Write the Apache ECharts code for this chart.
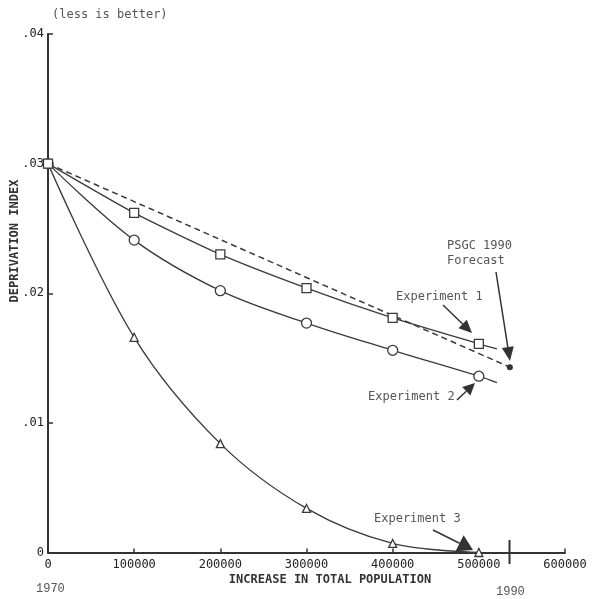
<!DOCTYPE html>
<html>
<head>
<meta charset="utf-8">
<script src="https://cdn.jsdelivr.net/npm/echarts@6/dist/echarts.min.js"></script>
<style>
  html, body { margin: 0; padding: 0; background: #fff; }
  #chart { width: 599px; height: 599px; }
</style>
</head>
<body>
<div id="chart"></div>
<script>
// population increase (x) and deprivation index values
const popSteps = [0, 100000, 200000, 300000, 400000, 500000];
const exp1 = [0.0300, 0.0262, 0.0230, 0.0204, 0.0181, 0.0161];
const exp2 = [0.0300, 0.0241, 0.0202, 0.0177, 0.0156, 0.0136];
const exp3 = [0.0300, 0.0166, 0.0084, 0.0034, 0.0007, 0.0000];
// the experiment 1/2 lines run a little past the last marker
const tailX = 521000;
const exp1Tail = 0.0157;
const exp2Tail = 0.0131;
// PSGC 1990 forecast: straight dashed line from 1970 value
const forecastX = [0, 536000];
const forecastY = [0.0300, 0.0143];
const xTicks = [0, 100000, 200000, 300000, 400000, 500000, 600000];
const yTicks = [0, 0.01, 0.02, 0.03, 0.04];

const ink = '#3a3a3a';
const mono = '"DejaVu Sans Mono", monospace';

function pairs(xs, ys) {
  return xs.map((x, i) => [x, ys[i]]);
}

function withTail(xs, ys, tx, ty) {
  const d = pairs(xs, ys);
  d.push({ value: [tx, ty], symbol: 'none' });
  return d;
}

// arrow drawn as a line with a filled triangular head
function arrow(x1, y1, x2, y2, len, half) {
  const a = Math.atan2(y2 - y1, x2 - x1);
  const bx = x2 - len * Math.cos(a), by = y2 - len * Math.sin(a);
  const px = -Math.sin(a) * half, py = Math.cos(a) * half;
  return [
    { type: 'line', shape: { x1: x1, y1: y1, x2: bx, y2: by }, style: { stroke: '#333', lineWidth: 1.5 } },
    { type: 'polygon', shape: { points: [[x2, y2], [bx + px, by + py], [bx - px, by - py]] }, style: { fill: '#333' } }
  ];
}

function label(text, x, y, opts) {
  return Object.assign({
    type: 'text', x: x, y: y,
    style: { text: text, font: '12px ' + mono, fill: '#555', textVerticalAlign: 'middle' }
  }, opts || {});
}

const chart = echarts.init(document.getElementById('chart'));

const lineStyle = { color: ink, width: 1.3 };

chart.setOption({
  animation: false,
  backgroundColor: '#fff',
  grid: { left: 48, right: 34, top: 34, bottom: 46.5, containLabel: false, outerBoundsMode: 'none' },
  xAxis: {
    type: 'value', min: 0, max: 600000, interval: 100000,
    axisLine: { lineStyle: { color: '#333', width: 2 } },
    axisTick: { inside: true, length: 4, lineStyle: { color: '#333', width: 1.5 } },
    axisLabel: { fontFamily: mono, fontSize: 12, color: '#222', margin: 6, formatter: v => String(v) },
    splitLine: { show: false }
  },
  yAxis: {
    type: 'value', min: 0, max: 0.04, interval: 0.01,
    axisLine: { lineStyle: { color: '#333', width: 2 } },
    axisTick: { inside: true, length: 5, lineStyle: { color: '#333', width: 1.5 } },
    axisLabel: {
      fontFamily: mono, fontSize: 12, color: '#222', margin: 4,
      formatter: v => v === 0 ? '0' : v.toFixed(2).slice(1)
    },
    splitLine: { show: false }
  },
  series: [
    {
      name: 'PSGC 1990 Forecast', type: 'line', clip: false,
      data: [
        { value: [forecastX[0], forecastY[0]], symbol: 'none' },
        { value: [forecastX[1], forecastY[1]] }
      ],
      symbol: 'circle', symbolSize: 6,
      itemStyle: { color: '#333' },
      lineStyle: { color: ink, width: 1.5, type: [6, 4] },
      z: 1
    },
    {
      name: 'Experiment 3', type: 'line', clip: false, smooth: 0.35,
      data: pairs(popSteps, exp3),
      symbol: 'triangle', symbolSize: 8,
      itemStyle: { color: '#fff', borderColor: ink, borderWidth: 1.3 },
      lineStyle: lineStyle, z: 3
    },
    {
      name: 'Experiment 2', type: 'line', clip: false, smooth: 0.35,
      data: withTail(popSteps, exp2, tailX, exp2Tail),
      symbol: 'circle', symbolSize: 10,
      itemStyle: { color: '#fff', borderColor: ink, borderWidth: 1.3 },
      lineStyle: lineStyle, z: 3
    },
    {
      name: 'Experiment 1', type: 'line', clip: false, smooth: 0.2,
      data: withTail(popSteps, exp1, tailX, exp1Tail),
      symbol: 'rect', symbolSize: 9,
      itemStyle: { color: '#fff', borderColor: ink, borderWidth: 1.3 },
      lineStyle: lineStyle, z: 3
    }
  ],
  graphic: [
    label('(less is better)', 52, 15),
    {
      type: 'text', x: 15, y: 241, rotation: Math.PI / 2,
      style: { text: 'DEPRIVATION INDEX', font: 'bold 12px ' + mono, fill: '#333', textAlign: 'center', textVerticalAlign: 'middle' }
    },
    label('INCREASE IN TOTAL POPULATION', 330, 580, {
      style: { text: 'INCREASE IN TOTAL POPULATION', font: 'bold 12px ' + mono, fill: '#333', textAlign: 'center', textVerticalAlign: 'middle' }
    }),
    label('1970', 36, 589, { style: { text: '1970', font: '12px "Liberation Mono", monospace', fill: '#555', textVerticalAlign: 'middle' } }),
    label('1990', 496, 592, { style: { text: '1990', font: '12px "Liberation Mono", monospace', fill: '#555', textVerticalAlign: 'middle' } }),
    { type: 'line', shape: { x1: 509.5, y1: 540, x2: 509.5, y2: 564 }, style: { stroke: '#333', lineWidth: 2 } },
    label('PSGC 1990', 447, 246),
    label('Forecast', 447, 261),
    label('Experiment 1', 396, 297),
    label('Experiment 2', 368, 397),
    label('Experiment 3', 374, 519)
  ]
    .concat(arrow(496, 272, 510, 361, 14, 6))
    .concat(arrow(443, 305, 472, 333, 13, 6))
    .concat(arrow(457, 400, 475, 383, 12, 6))
    .concat(arrow(433, 530, 473, 550, 15, 9))
});
</script>
</body>
</html>
